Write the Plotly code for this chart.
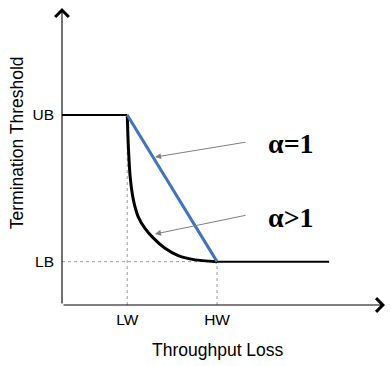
import plotly.graph_objects as go

# key levels (data units)
LW, HW, X_END = 2.02, 4.8, 8.27
UB, LB = 6.4, 1.46
tick_x_labels = ["LW", "HW"]
tick_y_labels = ["LB", "UB"]

# alpha>1 curve
curve_x = [2.02, 2.05, 2.11, 2.21, 2.36, 2.57, 2.83, 3.19, 3.60, 4.12, 4.8]
curve_y = [6.40, 5.44, 4.32, 3.54, 2.97, 2.58, 2.25, 1.91, 1.66, 1.52, 1.46]

# alpha=1 line
lin_x = [LW, HW]
lin_y = [UB, LB]

fig = go.Figure()
dot = dict(color="#a0a0a0", width=1, dash="dot")
fig.add_trace(go.Scatter(x=[LW, LW], y=[0, UB], mode="lines", line=dot))
fig.add_trace(go.Scatter(x=[0, HW], y=[LB, LB], mode="lines", line=dot))
fig.add_trace(go.Scatter(x=[HW, HW], y=[0, LB], mode="lines", line=dot))

fig.add_trace(go.Scatter(x=[0, LW], y=[UB, UB], mode="lines", line=dict(color="black", width=2)))
fig.add_trace(go.Scatter(x=[HW, X_END], y=[LB, LB], mode="lines", line=dict(color="black", width=2)))
fig.add_trace(go.Scatter(x=curve_x, y=curve_y, mode="lines",
                         line=dict(color="black", width=3, shape="spline", smoothing=0.5)))
fig.add_trace(go.Scatter(x=lin_x, y=lin_y, mode="lines", line=dict(color="#4174B8", width=3)))

ann = []
# axes with open arrowheads
ann.append(dict(x=0, y=10, ax=0, ay=0, xref="x", yref="y", axref="x", ayref="y", text="",
                showarrow=True, arrowhead=4, arrowsize=2.4, arrowwidth=1.1, arrowcolor="black", standoff=0))
ann.append(dict(x=10, y=0, ax=0, ay=0, xref="x", yref="y", axref="x", ayref="y", text="",
                showarrow=True, arrowhead=4, arrowsize=2.4, arrowwidth=1.1, arrowcolor="black", standoff=0))
# callouts
for (hx, hy, tx, ty) in [(2.88, 4.98, 5.73, 5.49), (2.88, 2.39, 5.73, 3.03)]:
    ann.append(dict(x=hx, y=hy, ax=tx, ay=ty, xref="x", yref="y", axref="x", ayref="y", text="",
                    showarrow=True, arrowhead=2, arrowsize=1.2, arrowwidth=1, arrowcolor="#808080", standoff=0))
serif = dict(family="Liberation Serif, Times New Roman, serif", size=28, color="black")
ann.append(dict(x=7.09, y=5.45, xref="x", yref="y", text="<b>α=1</b>", showarrow=False, font=serif))
ann.append(dict(x=7.09, y=2.96, xref="x", yref="y", text="<b>α>1</b>", showarrow=False, font=serif))
# axis titles
sans = dict(family="Liberation Sans, Arial, sans-serif", size=17.5, color="black")
ann.append(dict(x=0.483, y=-0.1515, xref="paper", yref="paper", text="Throughput Loss",
                showarrow=False, font=sans, xanchor="center", yanchor="middle"))
ann.append(dict(x=-0.139, y=0.545, xref="paper", yref="paper", text="Termination Threshold",
                showarrow=False, font=sans, textangle=-90, xanchor="center", yanchor="middle"))

tickfont = dict(family="Liberation Sans, Arial, sans-serif", size=15.5, color="black")
fig.update_layout(
    width=391, height=366,
    margin=dict(l=62, r=6, t=8, b=61),
    paper_bgcolor="white", plot_bgcolor="white",
    showlegend=False,
    annotations=ann,
    xaxis=dict(range=[0, 10], tickvals=[LW, HW], ticktext=tick_x_labels, showgrid=False,
               zeroline=False, showline=False, ticks="", tickfont=tickfont, ticklabelstandoff=3,
               fixedrange=True),
    yaxis=dict(range=[0, 10], tickvals=[LB, UB], ticktext=tick_y_labels, showgrid=False,
               zeroline=False, showline=False, ticks="", tickfont=tickfont, ticklabelstandoff=7,
               fixedrange=True),
)
fig.write_html("out.html", config={"displayModeBar": False},
               post_script="document.body.style.margin='0';document.body.style.padding='0';")
